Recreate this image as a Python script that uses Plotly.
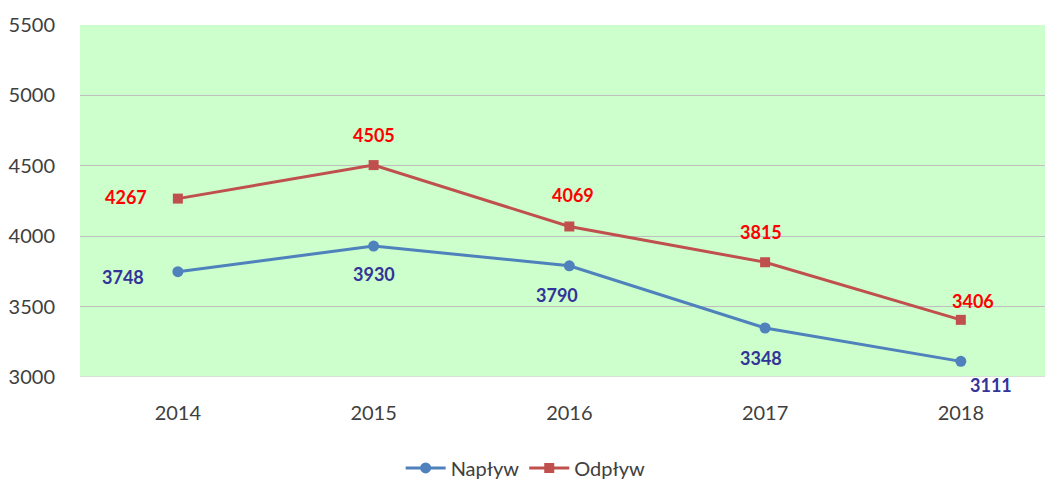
import plotly.graph_objects as go

years = ["2014", "2015", "2016", "2017", "2018"]
naplyw = [3748, 3930, 3790, 3348, 3111]
odplyw = [4267, 4505, 4069, 3815, 3406]
y_ticks = [3000, 3500, 4000, 4500, 5000, 5500]

# label offsets (px) for data labels
nap_shift = [(-55, -5), (0, -28), (-12, -29), (-4, -30), (30, -24)]
odp_shift = [(-52, 2), (0, 30), (4, 31), (-4, 30), (12, 19)]

FONT = "Lato, Open Sans, sans-serif"

fig = go.Figure()
fig.add_trace(go.Scatter(
    x=years, y=naplyw, name="Napływ", mode="lines+markers",
    line=dict(color="#4F81BD", width=3),
    marker=dict(symbol="circle", size=11, color="#4F81BD"),
))
fig.add_trace(go.Scatter(
    x=years, y=odplyw, name="Odpływ", mode="lines+markers",
    line=dict(color="#C0504D", width=3),
    marker=dict(symbol="square", size=10, color="#C0504D"),
))

for i, (yr, v) in enumerate(zip(years, naplyw)):
    fig.add_annotation(x=i, y=v, xref="x", yref="y", text="<b>%d</b>" % v, showarrow=False,
                       xshift=nap_shift[i][0], yshift=nap_shift[i][1],
                       font=dict(family=FONT, size=18, color="#333399"))
for i, (yr, v) in enumerate(zip(years, odplyw)):
    fig.add_annotation(x=i, y=v, xref="x", yref="y", text="<b>%d</b>" % v, showarrow=False,
                       xshift=odp_shift[i][0], yshift=odp_shift[i][1],
                       font=dict(family=FONT, size=18, color="#FF0000"))

fig.update_layout(
    width=1045, height=479,
    margin=dict(l=80, r=0, t=25, b=102, autoexpand=False),
    paper_bgcolor="white",
    plot_bgcolor="#CCFFCC",
    font=dict(family=FONT, size=20, color="#404040"),
    showlegend=True,
    legend=dict(orientation="h", xref="container", x=0.503, xanchor="center",
                yref="container", y=0.023, yanchor="middle",
                font=dict(size=20, color="#404040"), bgcolor="rgba(0,0,0,0)",
                itemwidth=40),
    xaxis=dict(type="category", range=[-0.5, 4.43], showgrid=False, zeroline=False,
               showline=False, ticks="outside", ticklen=18, tickcolor="rgba(0,0,0,0)",
               tickfont=dict(size=20, color="#404040"), automargin=False),
    yaxis=dict(range=[3000, 5500], tickvals=y_ticks, showgrid=True, gridcolor="#BFBFBF",
               gridwidth=1, zeroline=False, showline=False,
               ticks="outside", ticklen=20, tickcolor="rgba(0,0,0,0)",
               tickfont=dict(size=20, color="#404040"), automargin=False),
)
fig.add_shape(type="line", xref="paper", yref="y", x0=0, x1=1, y0=3000, y1=3000,
              line=dict(color="#D9D9D9", width=1.5))

fig.write_html("out.html", config={"displayModeBar": False},
               post_script="document.body.style.margin='0';document.body.style.overflow='hidden';")
